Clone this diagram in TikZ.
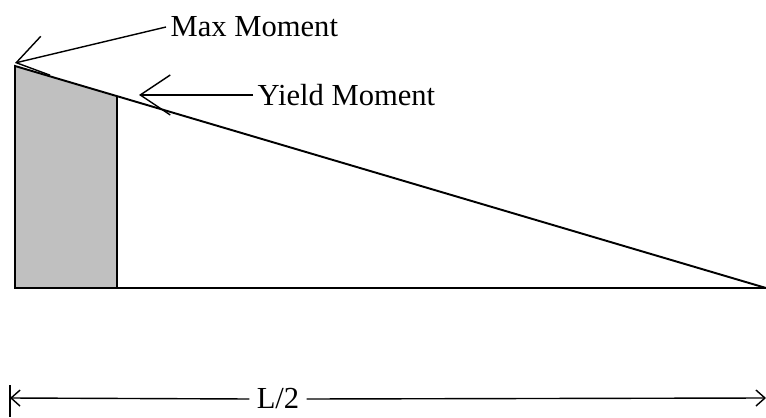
\documentclass[tikz,border=0pt]{standalone}
\usepackage{fontspec}
\setmainfont{Liberation Serif}
\usetikzlibrary{arrows.meta,positioning}
\definecolor{yieldgray}{HTML}{C0C0C0}

\begin{document}
\begin{tikzpicture}[
  x=0.02cm,y=-0.02cm,
  font=\fontsize{17.4}{20}\selectfont,
  outline/.style={line width=1.1pt,draw=black},
  callout/.style={-{Straight Barb[length=6mm,width=8mm]},line width=.8pt},
  dimline/.style={-{Straight Barb[length=1.8mm,width=3.2mm]},line width=.8pt},
  lab/.style={inner sep=2.5pt}
]
\useasboundingbox (0,0) rectangle (766,418);

% Half-span moment diagram; the plastic part near the support is shaded.
\coordinate (peak) at (15,66);
\coordinate (base-left) at (15,288);
\coordinate (base-right) at (766,288);
\coordinate (yield-top) at (117,97);
\coordinate (yield-base) at (117,288);
\fill[yieldgray] (base-left) -- (peak) -- (yield-top) -- (yield-base) -- cycle;
\draw[outline] (yield-top) -- (yield-base);
\draw[outline] (base-left) -- (peak) -- (base-right) -- cycle;

% Callouts for the two moment levels.
\node[lab,anchor=west] (max-lab) at (166,27) {Max Moment};
\coordinate (max-tip) at (15,63);
\draw[callout] (max-lab.west) -- (max-tip);
\node[lab,anchor=west] (yield-lab) at (253,95) {Yield Moment};
\coordinate (yield-tip) at (139,95);
\draw[callout] (yield-lab.west) -- (yield-tip);

% Dimension of the half span.
\coordinate (tick-top) at (10,385);
\coordinate (tick-bot) at (10,417);
\coordinate (dim-left) at (10,398);
\coordinate (dim-right) at (766,398);
\node[lab,inner xsep=4pt] (half-lab) at (278,399) {L/2};
\draw[line width=.8pt] (tick-top) -- (tick-bot);
\draw[dimline] (half-lab.west) -- (dim-left);
\draw[dimline] (half-lab.east) -- (dim-right);
\end{tikzpicture}
\end{document}
